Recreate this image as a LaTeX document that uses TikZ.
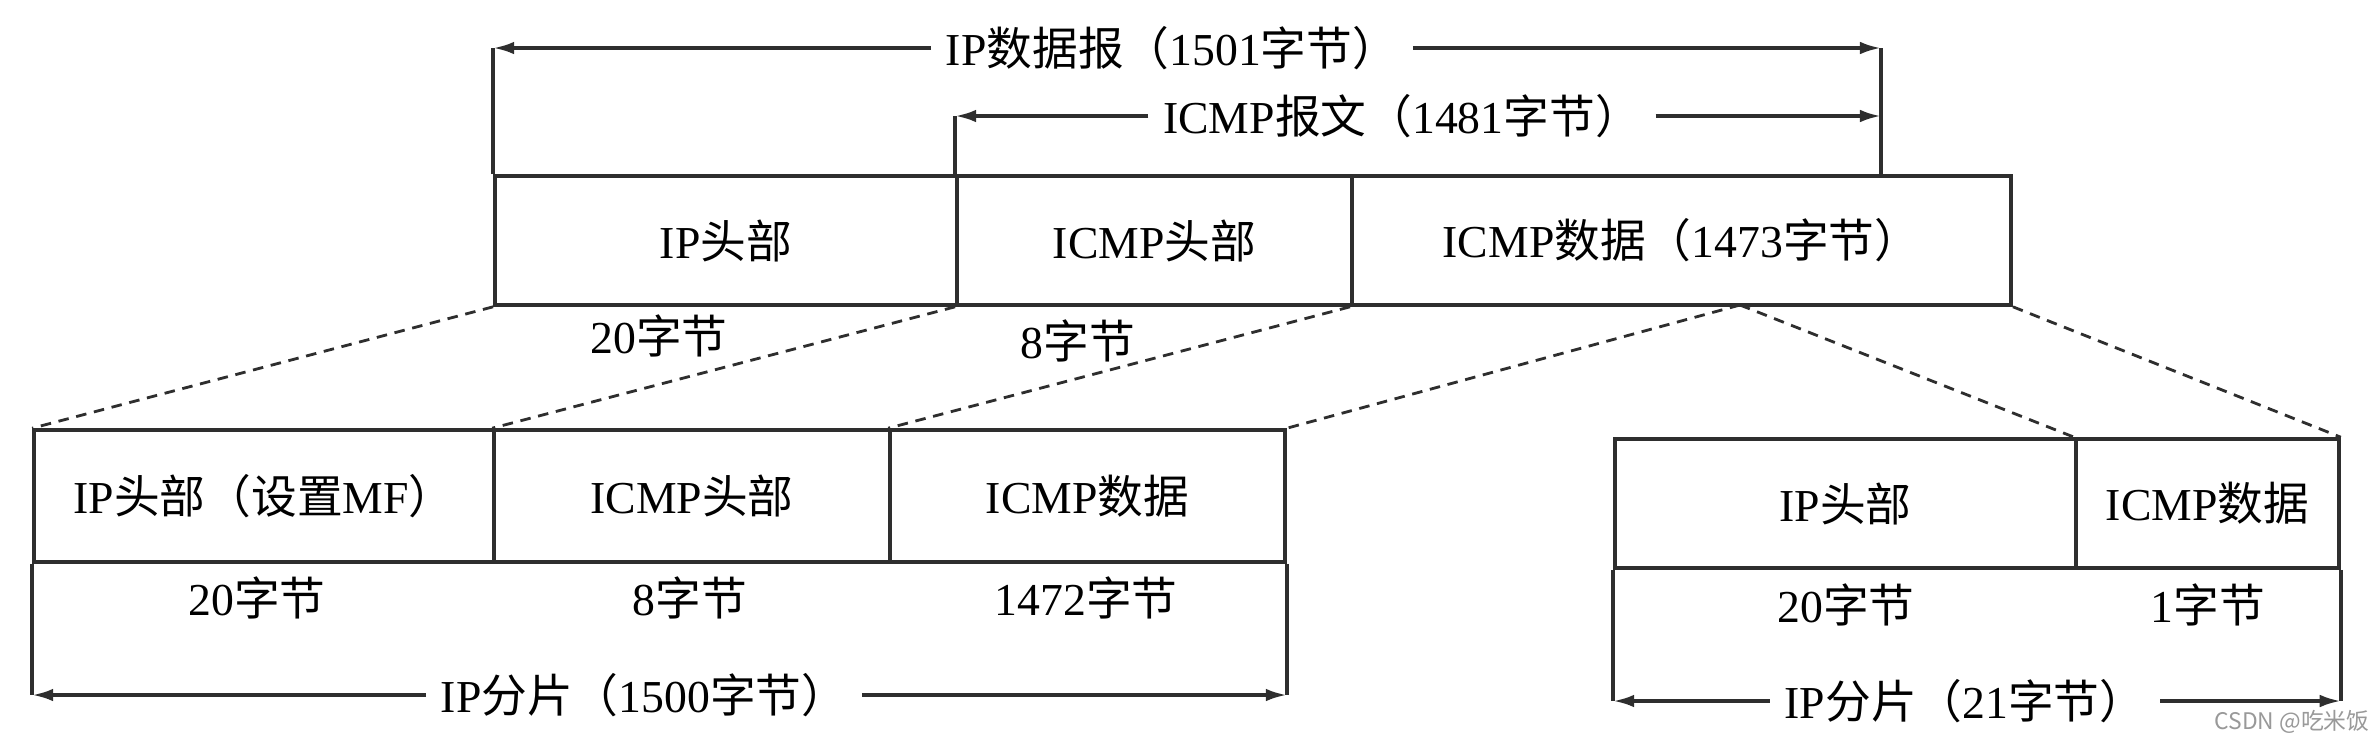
\documentclass[tikz,border=0pt]{standalone}
\usepackage{fontspec}
\setmainfont{Liberation Serif}
\newfontfamily\cjk{Noto Sans CJK SC}
\usetikzlibrary{arrows.meta}
\newcommand{\zh}[1]{{\cjk #1}}
\definecolor{linec}{gray}{0.18}
\begin{document}
\begin{tikzpicture}[x=0.01cm,y=-0.01cm,
  font=\fontsize{13}{15}\selectfont,
  cell/.style={draw=linec,line width=1pt,inner sep=0pt,minimum height=1.29cm},
  lowcell/.style={cell,minimum height=1.32cm},
  lab/.style={inner sep=0pt},
  dimlab/.style={inner xsep=4pt,inner ysep=0pt},
  dimarrow/.style={draw=linec,line width=1pt,-{Latex[length=6pt,width=3.6pt]}},
  frame/.style={draw=linec,line width=1pt},
  dashline/.style={draw=linec,line width=0.8pt,dash pattern=on 3pt off 2.2pt}]
\useasboundingbox (0,0) rectangle (2374,741);

% top datagram
\node[cell,minimum width=4.62cm] (c1) at (726,240.5) {IP\zh{头部}};
\node[cell,minimum width=3.95cm] (c2) at (1154.5,240.5) {ICMP\zh{头部}};
\node[cell,minimum width=6.59cm] (c3) at (1681.5,240.5) {ICMP\zh{数据（}1473\zh{字节）}};
\node[lab] (s1) at (659,336) {20\zh{字节}};
\node[lab] (s2) at (1078,341) {8\zh{字节}};

% top dimension arrows
\node[dimlab] (t1) at (1172,48) {IP\zh{数据报（}1501\zh{字节）}};
\node[dimlab] (t2) at (1402,116) {ICMP\zh{报文（}1481\zh{字节）}};
\coordinate (tr) at (1881,48);
\draw[frame] (c1.north west) -- (c1.north west |- t1);
\draw[frame] (c2.north west) -- (c2.north west |- t2);
\draw[frame] (tr |- c3.north) -- (tr);
\draw[dimarrow] (t1.west) -- (c1.north west |- t1);
\draw[dimarrow] (t1.east) -- (tr);
\draw[dimarrow] (t2.west) -- (c2.north west |- t2);
\draw[dimarrow] (t2.east) -- (tr |- t2);

% lower left fragment
\node[lowcell,minimum width=4.60cm] (d1) at (264,496) {IP\zh{头部（设置}MF\zh{）}};
\node[lowcell,minimum width=3.96cm] (d2) at (692,496) {ICMP\zh{头部}};
\node[lowcell,minimum width=3.95cm] (d3) at (1087.5,496) {ICMP\zh{数据}};
\node[lab] (u1) at (257,598) {20\zh{字节}};
\node[lab] (u2) at (690,598) {8\zh{字节}};
\node[lab] (u3) at (1086,598) {1472\zh{字节}};
\node[dimlab] (b1) at (644,695) {IP\zh{分片（}1500\zh{字节）}};
\draw[frame] (d1.south west) -- (d1.south west |- b1);
\draw[frame] (d3.south east) -- (d3.south east |- b1);
\draw[dimarrow] (b1.west) -- (d1.south west |- b1);
\draw[dimarrow] (b1.east) -- (d3.south east |- b1);

% lower right fragment
\node[cell,minimum width=4.61cm] (e1) at (1845.5,503.5) {IP\zh{头部}};
\node[cell,minimum width=2.63cm] (e2) at (2207.5,503.5) {ICMP\zh{数据}};
\node[lab] (v1) at (1846,605) {20\zh{字节}};
\node[lab] (v2) at (2208,605) {1\zh{字节}};
\node[dimlab] (b2) at (1965,701) {IP\zh{分片（}21\zh{字节）}};
\draw[frame] (e1.south west) -- (e1.south west |- b2);
\draw[frame] (e2.south east) -- (e2.south east |- b2);
\draw[dimarrow] (b2.west) -- (e1.south west |- b2);
\draw[dimarrow] (b2.east) -- (e2.south east |- b2);

% dashed mapping lines
\coordinate (ap) at (1740,305);
\draw[dashline] (c1.south west) -- (d1.north west);
\draw[dashline] (c2.south west) -- (d2.north west);
\draw[dashline] (c3.south west) -- (d3.north west);
\draw[dashline] (ap) -- (d3.north east);
\draw[dashline] (ap) -- (e2.north west);
\draw[dashline] (c3.south east) -- (e2.north east);

% watermark
\node[lab,text=gray!80,font=\cjk\fontsize{6.5}{8}\selectfont] (wm) at (2292,722) {CSDN @吃米饭};
\end{tikzpicture}
\end{document}
